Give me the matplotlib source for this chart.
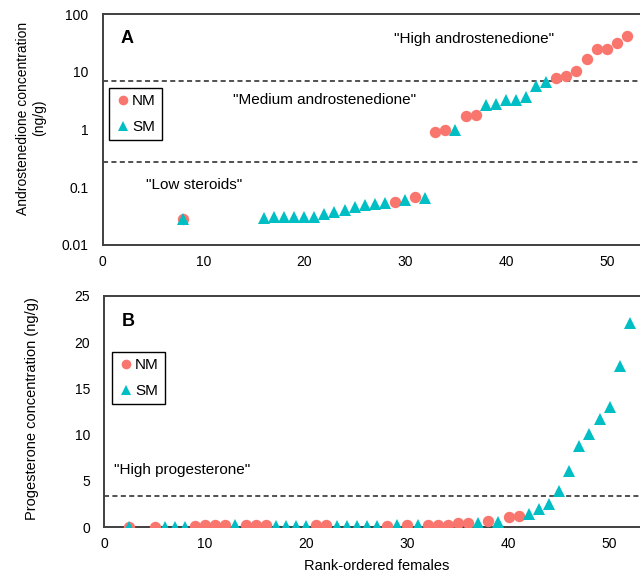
import matplotlib
matplotlib.use("Agg")
import matplotlib.pyplot as plt
from matplotlib.ticker import FixedLocator, NullLocator

plt.rcParams['font.family'] = ['Liberation Sans', 'DejaVu Sans']

NM_COLOR = "#F8766D"
SM_COLOR = "#00BFC4"
SPINE = "#404040"

# Panel A: androstenedione (ng/g) by rank
andro_nm_rank = [8, 29, 31, 33, 34, 36, 37, 45, 46, 47, 48, 49, 50, 51, 52]
andro_nm = [0.028, 0.056, 0.068, 0.90, 0.97, 1.74, 1.8, 7.8, 8.5, 10.5,
            16.5, 24.6, 25.0, 32.0, 42.0]
andro_sm_rank = [8, 16, 17, 18, 19, 20, 21, 22, 23, 24, 25, 26, 27, 28,
                 30, 32, 35, 38, 39, 40, 41, 42, 43, 44]
andro_sm = [0.028, 0.0297, 0.030, 0.030, 0.0305, 0.0305, 0.031, 0.034,
            0.0375, 0.040, 0.045, 0.050, 0.052, 0.053, 0.059, 0.065,
            1.0, 2.7, 2.8, 3.2, 3.2, 3.65, 5.6, 6.6]
andro_cuts = [6.8, 0.27]

# Panel B: progesterone (ng/g) by rank
prog_nm_rank = [2.5, 5, 9, 10, 11, 12, 14, 15, 16, 21, 22, 28, 30, 32, 33,
                34, 35, 36, 38, 40, 41]
prog_nm = [0.05, 0.05, 0.1, 0.2, 0.2, 0.2, 0.2, 0.2, 0.2, 0.2, 0.2, 0.15,
           0.3, 0.3, 0.3, 0.3, 0.5, 0.5, 0.7, 1.08, 1.26]
prog_sm_rank = [2.5, 6, 7, 8, 13, 17, 18, 19, 20, 23, 24, 25, 26, 27, 29,
                31, 37, 39, 42, 43, 44, 45, 46, 47, 48, 49, 50, 51, 52]
prog_sm = [0.03, 0.05, 0.05, 0.05, 0.2, 0.1, 0.1, 0.1, 0.1, 0.1, 0.1, 0.1,
           0.1, 0.1, 0.3, 0.3, 0.5, 0.6, 1.4, 1.95, 2.5, 3.96, 6.1, 8.8,
           10.05, 11.7, 13.0, 17.4, 22.0]
prog_cut = 3.4

x_ticks = [0, 10, 20, 30, 40, 50]


def style_axes(ax):
    for side in ["left", "bottom", "top"]:
        ax.spines[side].set_color(SPINE)
        ax.spines[side].set_linewidth(1.4)
    ax.spines["right"].set_visible(False)
    ax.tick_params(length=0, labelsize=10, colors="black")
    ax.tick_params(axis="x", pad=7)
    ax.tick_params(axis="y", pad=10)
    ax.set_xticks(x_ticks)


def add_points(ax, nm_x, nm_y, sm_x, sm_y):
    ax.plot(nm_x, nm_y, "o", color=NM_COLOR, markersize=8.2,
            markeredgewidth=0, label="NM", zorder=3)
    ax.plot(sm_x, sm_y, "^", color=SM_COLOR, markersize=8.2,
            markeredgewidth=0, label="SM", zorder=4)


def add_legend(ax, x, y):
    leg = ax.legend(loc="upper left", bbox_to_anchor=(x, y),
                    borderaxespad=0, fontsize=11, handlelength=1.0,
                    handletextpad=0.1, labelspacing=0.8, borderpad=0.4,
                    fancybox=False, framealpha=1, edgecolor="black",
                    markerscale=0.85)
    leg.get_frame().set_linewidth(1.0)


fig = plt.figure(figsize=(6.4, 5.75), dpi=100)

# ---- A ----
axA = fig.add_axes([102.5 / 640, 1 - 245 / 575, 1 - 102.5 / 640, 231 / 575])
style_axes(axA)
axA.set_yscale("log")
axA.set_ylim(0.01, 100)
axA.set_xlim(0, 53.3)
axA.yaxis.set_major_locator(FixedLocator([0.01, 0.1, 1, 10, 100]))
axA.yaxis.set_minor_locator(NullLocator())
axA.set_yticklabels(["0.01", "0.1", "1", "10", "100"])
for c in andro_cuts:
    axA.axhline(c, color="#222222", lw=1.1, linestyle=(0, (3.3, 2.2)), zorder=1)
add_points(axA, andro_nm_rank, andro_nm, andro_sm_rank, andro_sm)
add_legend(axA, 0.012, 0.68)
axA.text(0.0456, 0.892, "A", transform=axA.transAxes, fontsize=13,
         fontweight="bold", ha="center", va="center")
axA.text(36.8, 36.9, '"High androstenedione"', fontsize=11, ha="center", va="center")
axA.text(22.0, 3.24, '"Medium androstenedione"', fontsize=11, ha="center", va="center")
axA.text(9.1, 0.109, '"Low steroids"', fontsize=11, ha="center", va="center")

# ---- B ----
axB = fig.add_axes([104 / 640, 1 - 527.3 / 575, 1 - 104 / 640, 231.6 / 575])
style_axes(axB)
axB.set_ylim(0, 25)
axB.set_xlim(0, 53.0)
axB.set_yticks([0, 5, 10, 15, 20, 25])
axB.axhline(prog_cut, color="#222222", lw=1.1, linestyle=(0, (3.3, 2.2)), zorder=1)
add_points(axB, prog_nm_rank, prog_nm, prog_sm_rank, prog_sm)
add_legend(axB, 0.015, 0.758)
axB.text(0.0448, 0.888, "B", transform=axB.transAxes, fontsize=13,
         fontweight="bold", ha="center", va="center")
axB.text(7.7, 6.19, '"High progesterone"', fontsize=11, ha="center", va="center")

# axis titles
fig.text(31 / 640, 1 - 118 / 575, "Androstenedione concentration\n(ng/g)",
         rotation=90, ha="center", va="center", fontsize=10, linespacing=1.25)
fig.text(32 / 640, 1 - 409 / 575, "Progesterone concentration (ng/g)",
         rotation=90, ha="center", va="center", fontsize=10.5)
fig.text(377 / 640, 1 - 566 / 575, "Rank-ordered females",
         ha="center", va="center", fontsize=10.5)

fig.savefig("out.png", dpi=100)
